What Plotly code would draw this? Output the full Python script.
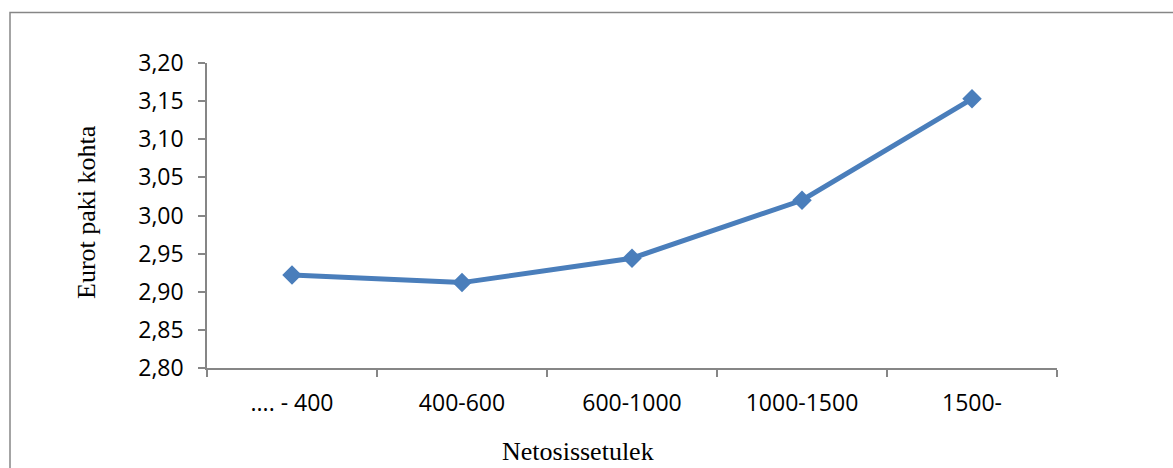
import plotly.graph_objects as go

# Netosissetulek groups and average price per pack (euros)
categories = [".... - 400", "400-600", "600-1000", "1000-1500", "1500-"]
price_per_pack = [2.922, 2.912, 2.944, 3.020, 3.153]

y_ticks = [2.80, 2.85, 2.90, 2.95, 3.00, 3.05, 3.10, 3.15, 3.20]

W, H = 1173, 468
L, R, T, B = 207, 116, 63, 100
pw, ph = W - L - R, H - T - B


def px_to_paper(px, py):
    return (px - L) / pw, (H - B - py) / ph


axis_grey = "#868686"
line_blue = "#4A7EBB"
tick_font = dict(family="Open Sans", size=23, color="#000000")
title_font = dict(family="Liberation Serif", size=26, color="#000000")

fig = go.Figure(
    go.Scatter(
        x=categories,
        y=price_per_pack,
        mode="lines+markers",
        line=dict(color=line_blue, width=5),
        marker=dict(symbol="diamond", size=15, color=line_blue),
        cliponaxis=False,
    )
)

fig.update_layout(
    width=W,
    height=H,
    margin=dict(l=L, r=R, t=T, b=B),
    paper_bgcolor="white",
    plot_bgcolor="white",
    showlegend=False,
    separators=", ",
)

fig.update_xaxes(
    type="category",
    range=[-0.5, len(categories) - 0.5],
    showgrid=False,
    showline=True,
    linecolor=axis_grey,
    linewidth=1.5,
    ticks="outside",
    tickson="boundaries",
    ticklen=7,
    tickcolor=axis_grey,
    tickwidth=1.5,
    tickfont=tick_font,
    ticklabelstandoff=14,
    zeroline=False,
)

fig.update_yaxes(
    range=[2.80, 3.20],
    tickvals=y_ticks,
    tickformat=".2f",
    showgrid=False,
    showline=True,
    linecolor=axis_grey,
    linewidth=1.5,
    ticks="outside",
    ticklen=7,
    tickcolor=axis_grey,
    tickwidth=1.5,
    tickfont=tick_font,
    ticklabelstandoff=10,
    zeroline=False,
)

# outer chart border
bx0, by0 = px_to_paper(10, 480)
bx1, by1 = px_to_paper(1190, 12.5)
fig.add_shape(
    type="rect", xref="paper", yref="paper",
    x0=bx0, x1=bx1, y0=by0, y1=by1,
    line=dict(color=axis_grey, width=1.5),
    fillcolor="rgba(0,0,0,0)",
    layer="below",
)

# axis titles
ytx, yty = px_to_paper(86, 212)
fig.add_annotation(
    text="Eurot paki kohta", xref="paper", yref="paper",
    x=ytx, y=yty, textangle=-90, showarrow=False,
    xanchor="center", yanchor="middle", font=title_font,
)
xtx, xty = px_to_paper(578, 451)
fig.add_annotation(
    text="Netosissetulek", xref="paper", yref="paper",
    x=xtx, y=xty, showarrow=False,
    xanchor="center", yanchor="middle", font=title_font,
)

fig.write_html("out.html")
